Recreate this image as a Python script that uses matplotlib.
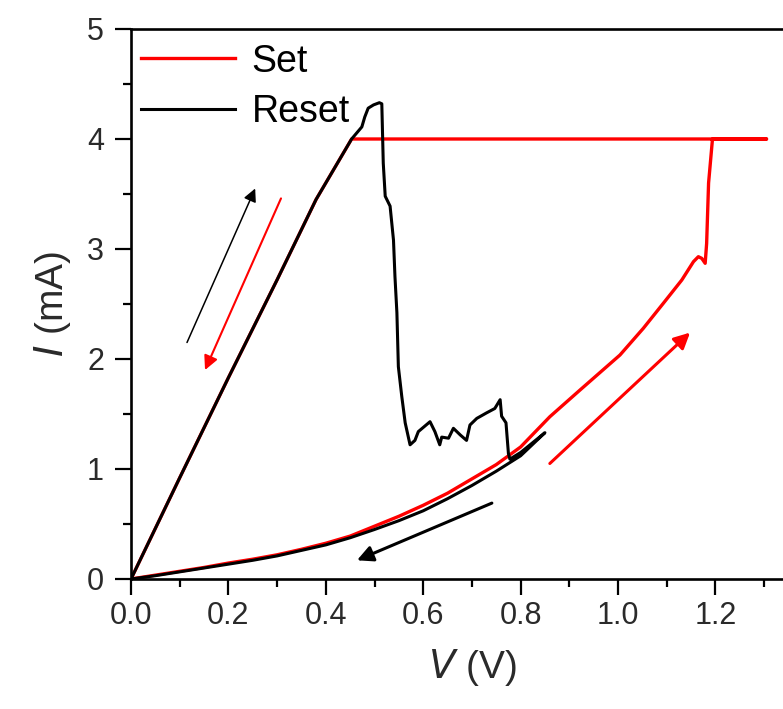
import matplotlib
matplotlib.use('Agg')
import matplotlib.pyplot as plt
from matplotlib.ticker import MultipleLocator

plt.rcParams['font.family'] = ['Liberation Sans', 'DejaVu Sans']

# Set sweep: HRS up, jump to compliance, back at 4 mA, LRS down to 0
set_v = [0, 0.05, 0.1, 0.15, 0.2, 0.25, 0.3, 0.35, 0.4, 0.45, 0.5, 0.55, 0.6, 0.65,
         0.7, 0.75, 0.8, 0.86, 0.922, 1.004, 1.052, 1.093, 1.131, 1.155, 1.165,
         1.172, 1.179, 1.182, 1.186, 1.194, 1.25, 1.305, 1.2, 1.0, 0.8, 0.6, 0.453,
         0.38, 0.3, 0.2, 0.1, 0]
set_i = [0, 0.035, 0.07, 0.105, 0.145, 0.18, 0.22, 0.27, 0.325, 0.39, 0.48, 0.57, 0.67,
         0.78, 0.91, 1.04, 1.20, 1.475, 1.718, 2.036, 2.279, 2.506, 2.718, 2.885, 2.93,
         2.915, 2.87, 3.05, 3.6, 4.0, 4.0, 4.0, 4.0, 4.0, 4.0, 4.0, 4.0,
         3.45, 2.72, 1.83, 0.92, 0]

# Reset sweep: LRS up, reset near 0.51 V, noisy HRS, up to 0.85 V and back
reset_v = [0, 0.1, 0.2, 0.3, 0.38, 0.453, 0.474, 0.48, 0.487, 0.498, 0.51, 0.515, 0.518,
           0.522, 0.532, 0.539, 0.542, 0.546, 0.549, 0.556, 0.563, 0.573, 0.583, 0.59,
           0.614, 0.624, 0.634, 0.638, 0.652, 0.662, 0.676, 0.689, 0.696, 0.71, 0.73,
           0.747, 0.758, 0.761, 0.77, 0.775, 0.778, 0.80, 0.85, 0.80, 0.75, 0.70, 0.65,
           0.60, 0.55, 0.50, 0.45, 0.40, 0.35, 0.30, 0.25, 0.20, 0.15, 0.10, 0.05, 0]
reset_i = [0, 0.92, 1.83, 2.72, 3.45, 4.0, 4.11, 4.20, 4.28, 4.31, 4.33, 4.32, 3.78,
           3.48, 3.39, 3.08, 2.75, 2.42, 1.93, 1.66, 1.42, 1.22, 1.26, 1.34,
           1.43, 1.34, 1.22, 1.29, 1.28, 1.37, 1.31, 1.26, 1.40, 1.46, 1.51,
           1.55, 1.63, 1.48, 1.42, 1.14, 1.09, 1.15, 1.33, 1.12, 0.98, 0.85, 0.73,
           0.62, 0.53, 0.45, 0.375, 0.31, 0.26, 0.21, 0.17, 0.135, 0.10, 0.065, 0.03, 0]

# sweep direction arrows: (tail, head, colour, width)
arrows = [
    ((0.115, 2.15), (0.255, 3.55), 'black', 1.1),
    ((0.308, 3.46), (0.152, 1.90), 'red', 1.5),
    ((0.86, 1.05), (1.148, 2.24), 'red', 2.2),
    ((0.741, 0.69), (0.464, 0.17), 'black', 2.2),
]

fig = plt.figure(figsize=(7.83, 7.09), dpi=100)
ax = fig.add_axes([131/783, 130/709, 1.4*487/783, 550/709])

ax.plot(set_v, set_i, color='red', lw=2.4, label='Set')
ax.plot(reset_v, reset_i, color='black', lw=2.2, label='Reset')

for tail, head, col, w in arrows:
    ax.annotate('', xy=head, xytext=tail,
                arrowprops=dict(arrowstyle='-|>', color=col, lw=w,
                                mutation_scale=15 + 4*w, shrinkA=0, shrinkB=0))

ax.set_xlim(0, 1.4)
ax.set_ylim(0, 5)
ax.xaxis.set_major_locator(MultipleLocator(0.2))
ax.xaxis.set_minor_locator(MultipleLocator(0.1))
ax.yaxis.set_major_locator(MultipleLocator(1))
ax.yaxis.set_minor_locator(MultipleLocator(0.5))
ax.set_xticks([0.0, 0.2, 0.4, 0.6, 0.8, 1.0, 1.2])
ax.set_xticklabels(['0.0', '0.2', '0.4', '0.6', '0.8', '1.0', '1.2'])

ax.spines['right'].set_visible(False)
for s in ['left', 'bottom', 'top']:
    ax.spines[s].set_linewidth(1.9)
ax.tick_params(which='major', direction='out', length=11.5, width=1.6,
               labelsize=22, colors='black', labelcolor='#2a2a2a')
ax.tick_params(axis='y', which='major', pad=8)
ax.tick_params(axis='x', which='major', pad=4)
ax.tick_params(which='minor', direction='out', length=6, width=1.6)
ax.tick_params(top=False, right=False)

ax.set_xlabel(r'$\it{V}$ (V)', fontsize=28, labelpad=12, color='#2a2a2a')
ax.set_ylabel(r'$\it{I}$ (mA)', fontsize=28, labelpad=10, color='#2a2a2a')

ax.legend(loc='upper left', bbox_to_anchor=(-0.035, 1.035), frameon=False,
          fontsize=27, handlelength=2.5, handletextpad=0.45, labelspacing=0.4)

fig.savefig('out.png', dpi=100)
